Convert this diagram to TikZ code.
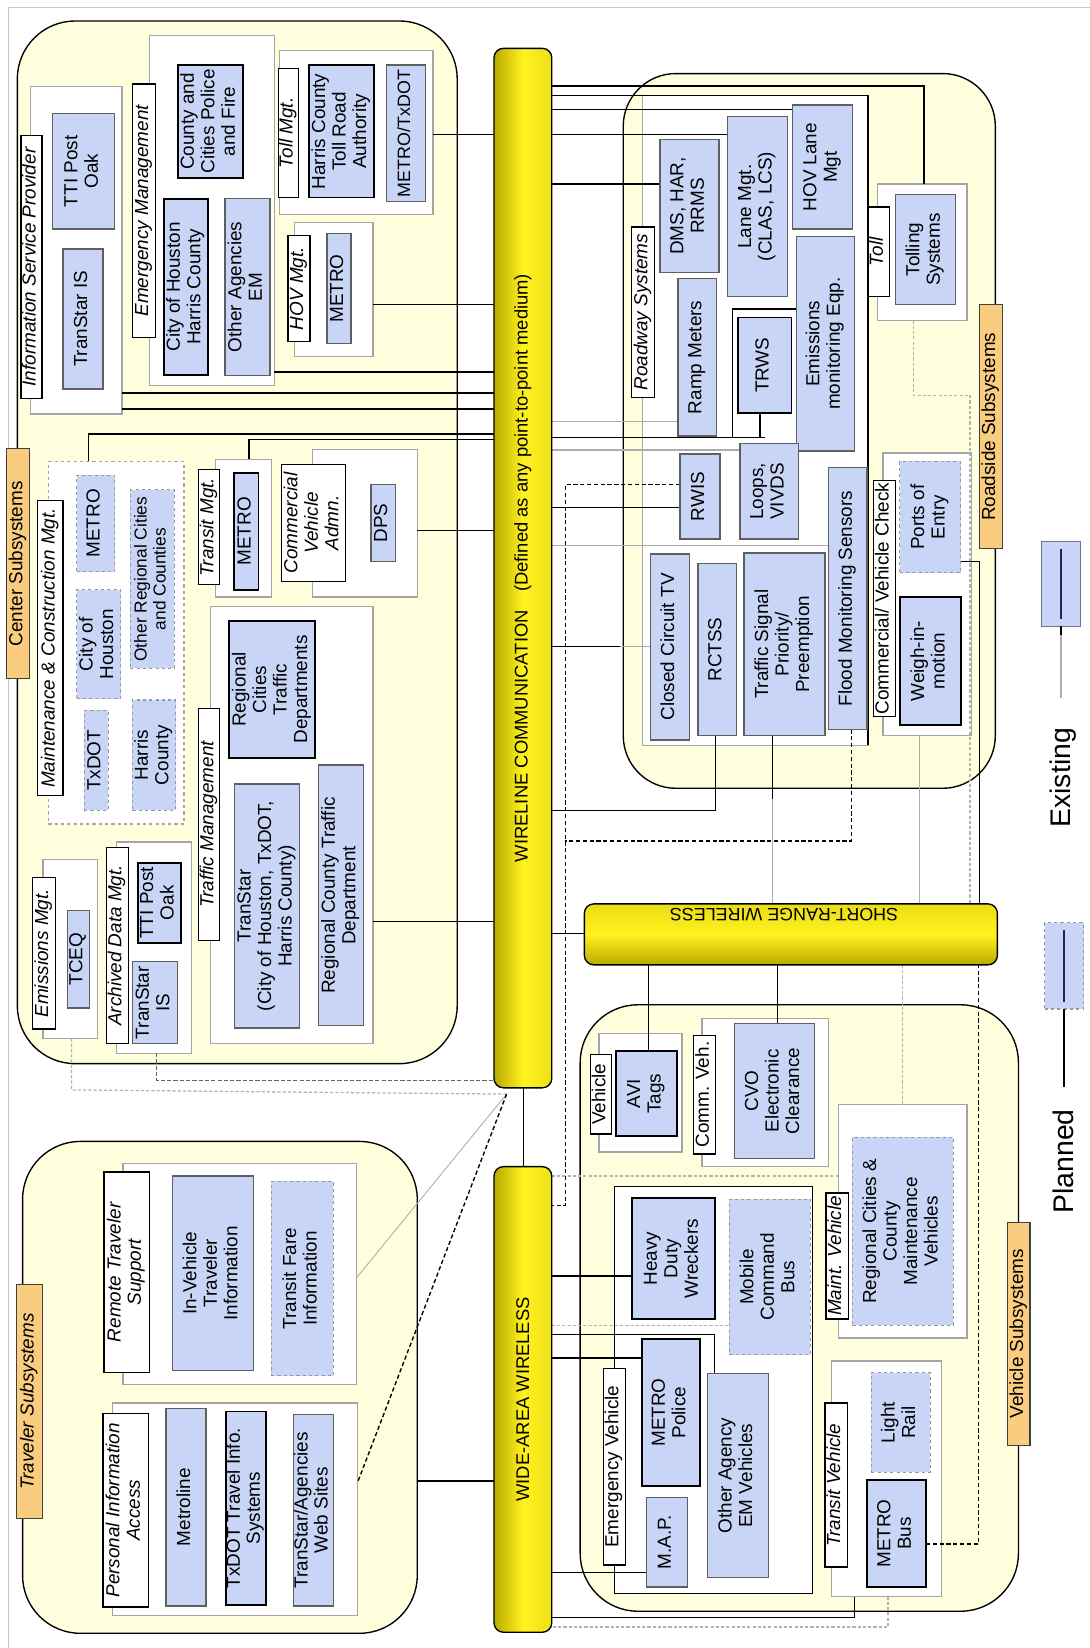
\documentclass[tikz,border=0pt]{standalone}
\usepackage{fontspec}
\setmainfont{Liberation Sans}
\usepackage{graphicx}
\definecolor{cream}{RGB}{255,255,221}
\definecolor{tabor}{RGB}{250,204,128}
\definecolor{bluef}{RGB}{201,213,247}
\definecolor{bord}{RGB}{95,95,95}
\definecolor{grpb}{RGB}{165,165,165}
\definecolor{barY}{RGB}{255,242,30}
\definecolor{barD}{RGB}{185,170,0}
\definecolor{navy}{RGB}{35,35,95}
\newcommand{\bx}[7]{\node[#1, minimum width={#5pt-#3pt}, minimum height={#6pt-#4pt}] (#2) at ({(#3+#5)/2},{(#4+#6)/2}) {\rotatebox{90}{\begin{tabular}{@{}c@{}}#7\end{tabular}}};}
\newcommand{\rb}[6]{\node[#1, minimum width={#5pt-#3pt}, minimum height={#6pt-#4pt}] (#2) at ({(#3+#5)/2},{(#4+#6)/2}) {};}
\tikzset{
 base/.style={inner sep=0pt, outer sep=0pt, font=\fontsize{18}{19.5}\selectfont},
 sub/.style={base, rounded corners=55pt, fill=cream, draw=black, line width=1.3pt},
 stab/.style={base, fill=tabor, draw=black!75, line width=1pt},
 grp/.style={base, fill=white, draw=grpb, line width=1.2pt},
 grpd/.style={grp, dashed},
 grpk/.style={grp, draw=black},
 tab/.style={base, fill=white, draw=black, line width=1.2pt, font=\fontsize{18}{19.5}\selectfont\itshape},
 tabu/.style={tab, font=\fontsize{18}{19.5}\selectfont},
 eb/.style={base, fill=bluef, draw=bord, line width=1.3pt},
 ebk/.style={eb, draw=black, line width=1.7pt},
 pb/.style={base, fill=bluef, draw=gray!80, dashed, line width=1pt},
 vbar/.style={base, rounded corners=9pt, draw=black, line width=1.3pt, left color=barD, right color=barY!75!barD, middle color=barY, font=\fontsize{17.5}{19}\selectfont},
 hbar/.style={base, rounded corners=9pt, draw=black, line width=1.3pt, top color=barY!70!barD, bottom color=barD, middle color=barY},
 cn/.style={draw=black, line width=1.3pt},
 cg/.style={draw=gray!65, line width=1.3pt},
 cd/.style={draw=black, line width=1.3pt, dash pattern=on 4pt off 2.5pt},
 cgd/.style={draw=gray!60, line width=1.2pt, dash pattern=on 3pt off 2pt},
 lgl/.style={draw=navy, line width=2.2pt},
 small/.style={font=\fontsize{16.5}{18}\selectfont},
 tight/.style={font=\fontsize{18}{19}\selectfont}
}
\begin{document}
\begin{tikzpicture}[x=1pt,y=-1pt]
\useasboundingbox (0,0) rectangle (1037,1568);
\fill[white] (0,0) rectangle (1037,1568);
\draw[gray!45, line width=1pt] (8,1568) -- (8,7) -- (1037,7);

% ---------- subsystem boxes
\rb{sub}{center}{16.5}{20}{435}{1012}
\rb{sub, rounded corners=50pt}{roadside}{593}{70}{947}{750}
\rb{sub}{vehicle}{552}{956}{969}{1533}
\rb{sub}{traveler}{21.5}{1086}{397}{1554}

% ---------- groups
\rb{grp}{ispg}{29}{82}{116}{394}
\rb{grp}{emg}{142}{34}{261}{367}
\rb{grp}{tollg}{266}{48}{412}{204}
\rb{grp}{hovg}{280}{212}{355}{339}
\rb{grpd}{mcg}{46}{439}{175}{784}
\rb{grp}{trg}{205}{437}{258}{568}
\rb{grp}{cvag}{297}{428}{397}{568}
\rb{grp}{tmg}{200}{577}{355}{993}
\rb{grp}{emisg}{41}{818}{93}{988}
\rb{grp}{adg}{111}{801}{182}{1002}
\rb{grp}{rwg}{611}{91}{826}{709}
\rb{grp}{tollgr}{835}{175}{920}{305}
\rb{grp}{cvcg}{840}{431}{924}{700}
\rb{grp}{vehg}{570}{983}{649}{1096}
\rb{grp}{cvg}{668}{969}{788}{1110}
\rb{grpk}{evg}{585}{1129}{773}{1516}
\rb{grp}{maintg}{798}{1051}{920}{1273}
\rb{grp}{trvg}{791}{1295}{896}{1519}
\rb{grp}{rtsg}{117}{1107}{339}{1317}
\rb{grp}{piag}{107}{1335}{340}{1537}

% ---------- named points
\coordinate (hub) at (482,1041);

% ---------- connectors : center
\draw[cn] (tollg.east |- 0,128) -- (470,128);
\draw[cn] (hovg.east |- 0,290) -- (470,290);
\draw[cn] (emg.east |- 0,354) -- (470,354);
\draw[cn] (ispg.east |- 0,374) -- (470,374);
\draw[cn] (ispg.east |- 0,389) -- (470,389);
\draw[cn] (mcg.north -| 84,0) -- (84,413) -- (470,413);
\draw[cn] (trg.north -| 237,0) -- (237,418) -- (470,418);
\draw[cn] (cvag.east |- 0,505) -- (470,505);
\draw[cn] (tmg.east |- 0,877) -- (470,877);
\draw[cd, draw=gray!80!black, dash pattern=on 4pt off 2pt] (adg.south -| 149,0) -- (149,1028) -- (471,1028);
\draw[cgd] (emisg.south -| 68,0) -- (68,1037) -- (hub);
\draw[cg, line width=0.8pt] (hub) -- (rtsg.east |- 0,1216);
\draw[cd] (hub) -- (piag.east |- 0,1411);
\draw[cn] (traveler.east |- 0,1409) -- (470,1409);
\draw[cn] (498,1035) -- (498,1110);

% ---------- connectors : roadside
\draw[cn] (525,82) -- (879,82) -- (tollgr.north -| 879,0);
\draw[cn] (525,91) -- (rwg.north west) -- (rwg.north east) -- (rwg.south east);
\draw[cn] (525,104) -- (754,104);
\draw[cn] (525,128) -- (692,128);
\draw[cn] (525,175) -- (628,175);
\draw[cg] (525,401) -- (645,401);
\draw[cn] (525,416) -- (728,416);
\draw[cn] (723,393) -- (723,416);
\draw[cn] (697,416) -- (697,294) -- (758,294);
\draw[cg] (525,428) -- (704,428);
\draw[cn] (525,483) -- (647,483);
\draw[cg] (525,519) -- (788,519);
\draw[cd] (647,461) -- (538,461) -- (538,1147) -- (525,1147);
\draw[cd] (810,694) -- (810,800) -- (538,800);
\draw[cn] (525,615) -- (590,615);
\draw[cg] (590,615) -- (619,615);
\draw[cn] (681,700) -- (681,771) -- (525,771);
\draw[cn] (735,700) -- (735,760);
\draw[cg] (735,760) -- (735,860);
\draw[cg] (875,700) -- (875,860);
\draw[cn] (914,534) -- (932,534) -- (932,860);
\draw[cgd] (869,305) -- (869,376) -- (923,376) -- (923,860);
\draw[cn] (525,888) -- (556,888);

% ---------- connectors : vehicle
\draw[cn] (617,918) -- (617,1000);
\draw[cn] (740,918) -- (740,974);
\draw[cgd] (859,918) -- (859,1051);
\draw[cd] (881,1469) -- (931,1469) -- (931,918);
\draw[cn] (525,1214) -- (601,1214);
\draw[cn] (525,1270) -- (680,1270) -- (680,1307);
\draw[cn] (525,1292) -- (611,1292);
\draw[cn] (525,1496) -- (615,1496);
\draw[cgd] (525,1261) -- (694,1261);
\draw[cgd] (525,1119) -- (798,1119);
\draw[cn] (813,1519) -- (813,1539) -- (525,1539);
\draw[cgd] (845,1519) -- (845,1548) -- (522,1548);

% ---------- subsystem tabs
\bx{stab}{centab}{6.6}{427}{28}{646}{Center Subsystems}
\bx{stab}{rstab}{932}{290}{954}{522}{Roadside Subsystems}
\bx{stab}{vstab}{959}{1163}{980}{1375}{Vehicle Subsystems}
\bx{stab, font=\fontsize{18}{19.5}\selectfont\itshape}{tstab}{16}{1222}{40}{1445}{Traveler Subsystems}

% ---------- group tabs
\bx{tab}{isptab}{20}{129}{40}{379}{Information Service Provider}
\bx{tab}{emtab}{126}{80}{148}{321}{Emergency Management}
\bx{tab}{tolltab}{265}{65}{284}{188}{Toll Mgt.}
\bx{tab}{hovtab}{274}{224}{295}{325}{HOV Mgt.}
\bx{tab}{mctab}{36}{476}{60}{757}{Maintenance \& Construction Mgt.}
\bx{tab}{trtab}{189}{447}{209}{556}{Transit Mgt.}
\bx{tab}{cvatab}{268}{442}{329}{553}{Commercial\\Vehicle\\Admn.}
\bx{tab}{tmtab}{189}{674}{209}{895}{Traffic Management}
\bx{tab}{emistab}{31}{835}{53}{979}{Emissions Mgt.}
\bx{tab}{adtab}{101}{806}{122}{993}{Archived Data Mgt.}
\bx{tab}{rwtab}{601}{216}{623}{378}{Roadway Systems}
\bx{tab}{tollrtab}{826}{197}{846}{282}{Toll}
\bx{tabu}{cvctab}{831}{457}{852}{682}{Commercial/ Vehicle Check}
\bx{tabu}{vehtab}{562}{1003}{582}{1079}{Vehicle}
\bx{tabu}{cvtab}{660}{985}{681}{1098}{Comm. Veh.}
\bx{tabu}{evtab}{574}{1302}{595}{1489}{Emergency Vehicle}
\bx{tab}{mttab}{786}{1135}{807}{1255}{Maint. Vehicle}
\bx{tab}{tvtab}{785}{1335}{806}{1491}{Transit Vehicle}
\bx{tab}{rtstab}{99}{1115}{142}{1306}{Remote Traveler\\Support}
\bx{tab}{piatab}{98}{1345}{141}{1529}{Personal Information\\Access}

% ---------- center elements
\bx{eb}{ttipo}{50}{108}{109}{218}{TTI Post\\Oak}
\bx{eb}{tsis}{60}{237}{98}{370}{TranStar IS}
\bx{ebk}{ccpf}{169}{62}{231}{169}{County and\\Cities Police\\and Fire}
\bx{ebk}{cohhc}{156}{189}{198}{357}{City of Houston\\Harris County}
\bx{eb}{oaem}{214}{189}{257}{357}{Other Agencies\\EM}
\bx{ebk}{hctra}{294}{62}{356}{188}{Harris County\\Toll Road\\Authority}
\bx{eb, font=\fontsize{17}{19}\selectfont}{mtx}{368}{62}{405}{192}{METRO/TxDOT}
\bx{eb}{hovm}{311}{222}{334}{327}{METRO}
\bx{pb}{mcm}{73}{452}{109}{544}{METRO}
\bx{pb, small}{mcor}{124}{466}{166}{636}{Other Regional Cities\\and Counties}
\bx{pb}{mccoh}{73}{561}{115}{665}{City of\\Houston}
\bx{pb}{mctx}{80}{676}{103}{771}{TxDOT}
\bx{pb}{mchc}{126}{666}{167}{771}{Harris\\County}
\bx{ebk}{trm}{223}{450}{246}{561}{METRO}
\bx{eb}{dps}{353}{461}{376}{534}{DPS}
\bx{ebk}{rctd}{218}{591}{300}{721}{Regional\\Cities\\Traffic\\Departments}
\bx{eb}{tstar}{223}{746}{285}{978}{TranStar\\(City of Houston, TxDOT,\\Harris County)}
\bx{eb}{rcotd}{303}{728}{346}{976}{Regional County Traffic\\Department}
\bx{eb}{tceq}{64}{866}{85}{959}{TCEQ}
\bx{ebk}{adtti}{131}{821}{172}{897}{TTI Post\\Oak}
\bx{eb}{adts}{126}{915}{169}{993}{TranStar\\IS}

% ---------- roadside elements
\bx{eb}{dms}{628}{133}{684}{259}{DMS, HAR,\\RRMS}
\bx{eb}{lane}{692}{111}{749}{282}{Lane Mgt.\\(CLAS, LCS)}
\bx{eb}{hovl}{754}{100}{811}{218}{HOV Lane\\Mgt}
\bx{eb}{ramp}{645}{265}{682}{415}{Ramp Meters}
\bx{ebk}{trws}{702}{302}{753}{393}{TRWS}
\bx{eb}{emeq}{758}{225}{813}{429}{Emissions\\monitoring Eqp.}
\bx{eb}{rwis}{647}{432}{685}{513}{RWIS}
\bx{eb}{loops}{704}{422}{760}{513}{Loops,\\VIVDS}
\bx{eb}{cctv}{619}{527}{656}{704}{Closed Circuit TV}
\bx{eb}{rctss}{664}{536}{701}{700}{RCTSS}
\bx{eb}{tsp}{708}{526}{785}{700}{Traffic Signal\\Priority/\\Preemption}
\bx{eb}{flood}{788}{445}{825}{694}{Flood Monitoring Sensors}
\bx{eb}{tolls}{852}{185}{909}{290}{Tolling\\Systems}
\bx{pb}{ports}{856}{439}{914}{545}{Ports of\\Entry}
\bx{ebk}{wim}{856}{568}{914}{690}{Weigh-in-\\motion}

% ---------- vehicle elements
\bx{ebk}{avi}{586}{1000}{644}{1081}{AVI\\Tags}
\bx{eb}{cvo}{699}{974}{775}{1102}{CVO\\Electronic\\Clearance}
\bx{ebk}{hdw}{601}{1140}{680}{1255}{Heavy\\Duty\\Wreckers}
\bx{pb}{mcb}{694}{1141}{771}{1289}{Mobile\\Command\\Bus}
\bx{ebk}{mpol}{611}{1274}{666}{1414}{METRO\\Police}
\bx{eb}{map}{615}{1425}{654}{1510}{M.A.P.}
\bx{eb}{oaev}{673}{1307}{731}{1501}{Other Agency\\EM Vehicles}
\bx{pb}{rcmv}{811}{1082}{907}{1261}{Regional Cities \&\\County\\Maintenance\\Vehicles}
\bx{pb}{lrail}{829}{1306}{885}{1401}{Light\\Rail}
\bx{ebk}{mbus}{825}{1408}{881}{1510}{METRO\\Bus}

% ---------- traveler elements
\bx{eb}{ivti}{164}{1119}{241}{1304}{In-Vehicle\\Traveler\\Information}
\bx{pb}{tfi}{258}{1124}{317}{1309}{Transit Fare\\Information}
\bx{eb}{mline}{158}{1340}{196}{1528}{Metroline}
\bx{ebk, tight}{txtis}{215}{1343}{253}{1527}{TxDOT Travel Info.\\Systems}
\bx{eb, tight}{tsweb}{280}{1346}{317}{1528}{TranStar/Agencies\\Web Sites}

% ---------- communication bars
\node[vbar, minimum width=55pt, minimum height=989pt] (wire) at (497.5,540.5) {\rotatebox{90}{WIRELINE COMMUNICATION\quad(Defined as any point-to-point medium)}};
\node[vbar, minimum width=55pt, minimum height=443pt] (wide) at (497.5,1331.5) {\rotatebox{90}{WIDE-AREA WIRELESS}};
\node[hbar, minimum width=393pt, minimum height=58pt] (sr) at (752.5,889) {};
\node[base, font=\fontsize{17}{19}\selectfont, rotate=180] (srtxt) at (746,870) {SHORT-RANGE WIRELESS};

% ---------- legend
\rb{eb, draw=gray!90!blue, line width=1.2pt}{lgex}{991}{515}{1028}{596}
\draw[lgl] ([yshift=-7pt]lgex.north) -- ([yshift=7pt]lgex.south);
\draw[cn] (lgex.south) -- ++(0,8) coordinate (lgexa);
\draw[cg] (lgexa) -- ++(0,60);
\node[base, font=\fontsize{27}{30}\selectfont, rotate=90] (lgextxt) at (1012,740) {Existing};
\rb{pb, line width=1.2pt}{lgpl}{994}{878}{1031}{960}
\draw[lgl] ([yshift=-7pt]lgpl.north) -- ([yshift=7pt]lgpl.south);
\draw[cn] (lgpl.south) -- ++(0,74);
\node[base, font=\fontsize{27}{30}\selectfont, rotate=90] (lgpltxt) at (1012,1105) {Planned};
\end{tikzpicture}
\end{document}
